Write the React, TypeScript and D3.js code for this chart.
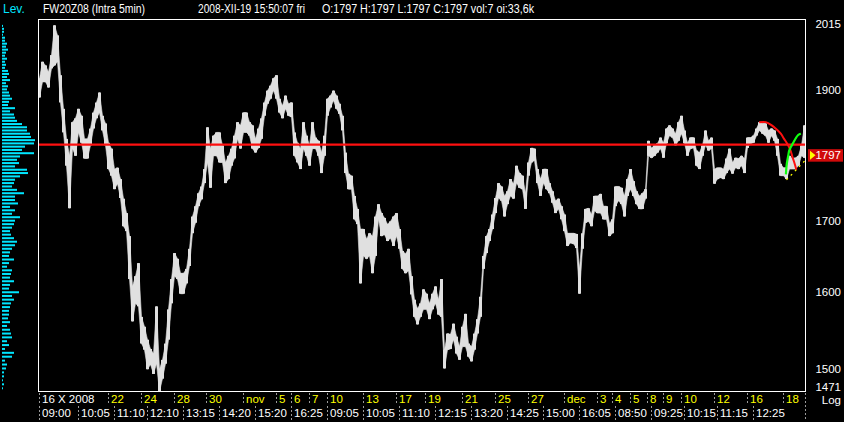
import React from 'react';
import * as d3 from 'd3';

// ---------- data ----------
const high = [
  1918,1945,1939,1928,1956,2006,1989,1923,1869,1822,
  1796,1848,1854,1869,1858,1822,1822,1838,1863,1879,
  1895,1858,1846,1816,1807,1776,1778,1761,1732,1711,
  1678,1608,1622,1640,1567,1554,1537,1525,1519,1581,
  1499,1511,1532,1577,1618,1654,1646,1626,1626,1632,
  1660,1706,1721,1740,1750,1776,1840,1807,1827,1832,
  1832,1812,1786,1796,1807,1827,1848,1843,1863,1863,
  1848,1843,1822,1838,1854,1879,1898,1906,1918,1923,
  1885,1874,1890,1877,1879,1832,1816,1807,1848,1827,
  1812,1848,1824,1819,1801,1827,1885,1890,1898,1890,
  1877,1858,1801,1769,1766,1736,1717,1688,1688,1674,
  1682,1678,1706,1724,1711,1704,1695,1699,1706,1711,
  1688,1657,1653,1660,1622,1590,1578,1585,1604,1598,
  1585,1598,1608,1590,1618,1524,1545,1544,1558,1541,
  1528,1554,1571,1532,1528,1545,1564,1594,1650,1678,
  1688,1709,1733,1755,1750,1736,1743,1761,1754,1781,
  1770,1766,1740,1786,1808,1807,1776,1761,1776,1776,
  1755,1743,1729,1732,1721,1709,1682,1682,1682,1681,
  1632,1682,1717,1718,1709,1736,1736,1739,1721,1721,
  1696,1702,1750,1750,1748,1736,1761,1776,1758,1743,
  1736,1740,1746,1819,1808,1812,1815,1824,1816,1838,
  1843,1838,1830,1848,1858,1835,1816,1824,1824,1804,
  1801,1812,1835,1819,1824,1776,1778,1778,1776,1792,
  1807,1786,1793,1792,1796,1792,1824,1824,1827,1838,
  1848,1846,1846,1835,1838,1835,1822,1784,1778,1778,
  1796,1792,1793,1796,1812,1843,
];
const low = [
  1887,1912,1912,1903,1934,1939,1945,1879,1832,1781,
  1718,1807,1796,1832,1816,1792,1792,1812,1838,1854,
  1863,1835,1812,1776,1766,1746,1754,1733,1692,1685,
  1618,1561,1585,1581,1532,1524,1499,1505,1493,1506,
  1471,1487,1506,1537,1585,1622,1618,1598,1598,1612,
  1636,1682,1697,1721,1731,1755,1786,1748,1796,1796,
  1786,1786,1755,1761,1781,1792,1822,1807,1832,1832,
  1827,1807,1801,1808,1822,1858,1877,1885,1898,1885,
  1863,1854,1869,1858,1856,1796,1786,1776,1807,1796,
  1781,1807,1807,1796,1770,1796,1858,1871,1882,1869,
  1861,1835,1770,1746,1746,1702,1695,1612,1650,1646,
  1650,1626,1650,1702,1678,1680,1671,1675,1664,1678,
  1660,1632,1626,1629,1597,1567,1557,1567,1577,1577,
  1564,1577,1585,1570,1567,1500,1524,1525,1537,1519,
  1511,1528,1528,1515,1509,1524,1545,1567,1632,1654,
  1671,1688,1711,1733,1729,1706,1724,1736,1732,1755,
  1748,1746,1717,1766,1786,1789,1755,1736,1755,1746,
  1740,1726,1711,1717,1702,1685,1664,1668,1667,1661,
  1598,1660,1697,1699,1692,1714,1711,1711,1702,1702,
  1678,1682,1721,1729,1724,1706,1736,1746,1736,1724,
  1717,1717,1732,1796,1793,1796,1801,1807,1793,1815,
  1827,1824,1812,1819,1830,1815,1796,1807,1808,1781,
  1776,1796,1812,1804,1807,1754,1761,1763,1761,1770,
  1776,1769,1778,1776,1781,1770,1808,1815,1816,1827,
  1835,1830,1827,1816,1827,1819,1796,1766,1766,1761,
  1776,1776,1776,1781,1796,1793,
];

const dateTickIdx = [0, 23, 34, 45, 56, 68, 79, 84, 90, 96, 108, 119, 129, 141, 152, 163, 175, 186, 191, 197, 203, 208, 214, 225, 236, 248];
const dateTickLabels = ['16 X 2008', '22', '24', '28', '30', 'nov', '5', '6', '7', '10', '13', '17', '19', '21', '25', '27', 'dec', '3', '4', '5', '8', '9', '10', '12', '16', '18'];
const timeTickIdx = [0, 13, 25, 36, 48, 60, 72, 84, 96, 108, 120, 132, 144, 156, 168, 180, 192, 204, 215, 226, 238];
const timeTickLabels = ['09:00', '10:05', '11:10', '12:10', '13:15', '14:20', '15:20', '16:25', '09:05', '10:05', '11:10', '12:15', '13:20', '14:25', '15:00', '16:05', '08:50', '09:25', '10:15', '11:15', '12:25'];

const priceTicks = [2015, 1900, 1700, 1600, 1500, 1471];
const lastPrice = 1797;
const refLevel = 1813;

const profileTopPrice = 2005;
const profileStep = 5;
const profileVolume = [
  1,2,2,1,3,3,5,4,6,4,
  3,5,3,4,3,6,7,5,8,4,
  6,5,7,8,10,7,6,13,8,12,
  13,15,20,25,25,28,29,33,32,23,
  20,32,18,15,17,13,25,26,18,13,
  12,10,15,22,13,13,16,8,13,10,
  18,13,12,10,8,9,12,15,13,10,
  8,7,12,7,5,10,9,8,12,8,
  7,17,10,12,9,8,7,7,6,8,
  5,8,9,10,5,7,3,12,10,3,
  5,4,2,2,1,2,1,
];

const redArcIdx = [239.9, 242.1, 244.1, 245.4, 247.1, 248.2, 249.3, 250.1, 250.7, 251, 251.6, 252.3];
const redArcPrice = [1848, 1848, 1843, 1838, 1830, 1822, 1814, 1807, 1799, 1794, 1786, 1775];
const greenArcIdx = [248.8, 249.1, 249.6, 249.9, 250.4, 251, 251.6, 252.1, 252.7, 253.2, 253.8];
const greenArcPrice = [1768, 1784, 1797, 1804, 1809, 1814, 1819, 1823, 1827, 1829, 1830];
const yellowIdx = [249, 251, 252.9, 255];
const yellowPrice = [1760, 1769, 1778, 1788];

const headerTitle = 'FW20Z08 (Intra 5min)';
const headerTime = '2008-XII-19 15:50:07 fri';
const headerOHLC = 'O:1797 H:1797 L:1797 C:1797 vol:7 oi:33,6k';

// ---------- chart ----------
const W = 844;
const H = 422;
const FONT = "'Liberation Sans', Arial, sans-serif";

export default function App() {
  const frame = { left: 38.5, right: 805.5, top: 19.5, bottom: 391.5 };
  const x = d3.scaleLinear().domain([0, high.length - 1]).range([39.5, 804.5]);
  const y = d3.scaleLog().domain([1471, 2015]).range([391.5, 20]);
  const step = x(1) - x(0);

  const bars = high.map((h, i) => ({ i, h, l: low[i] }));
  const area = d3
    .area<{ i: number; h: number; l: number }>()
    .x((d) => x(d.i))
    .y0((d) => y(d.l))
    .y1((d) => y(d.h))
    .curve(d3.curveLinear);

  const lineGen = d3
    .line<[number, number]>()
    .x((d) => x(d[0]))
    .y((d) => y(d[1]))
    .curve(d3.curveCatmullRom);

  const redPts = redArcIdx.map((v, k) => [v, redArcPrice[k]] as [number, number]);
  const greenPts = greenArcIdx.map((v, k) => [v, greenArcPrice[k]] as [number, number]);
  const yellowPts = yellowIdx.map((v, k) => [v, yellowPrice[k]] as [number, number]);

  const profileLevels = profileVolume.map((v, k) => ({ p: profileTopPrice - k * profileStep, v }));
  const volLen = d3.scaleLinear().domain([0, 33]).range([0, 33]);

  const yLast = y(lastPrice);
  const fs = 11.5;

  return (
    <svg
      width={W}
      height={H}
      style={{ position: 'fixed', left: 0, top: 0, background: '#000' }}
      fontFamily={FONT}
    >
      <rect x={0} y={0} width={W} height={H} fill="#000" />

      {/* header */}
      <text x={3} y={13} fill="#00e6ff" fontSize={12}>Lev.</text>
      <text x={43} y={13} fill="#fff" fontSize={12} textLength={102} lengthAdjust="spacingAndGlyphs">{headerTitle}</text>
      <text x={198} y={13} fill="#fff" fontSize={12} textLength={107} lengthAdjust="spacingAndGlyphs">{headerTime}</text>
      <text x={322} y={13} fill="#fff" fontSize={12} textLength={212} lengthAdjust="spacingAndGlyphs">{headerOHLC}</text>

      {/* volume profile */}
      {profileLevels.map((d, k) => (
        <rect
          key={k}
          x={2}
          y={y(d.p) - 1}
          width={Math.max(1, volLen(d.v))}
          height={2}
          fill="#00e6ff"
        />
      ))}

      {/* price trace: connecting band plus hi-lo columns */}
      <path d={area(bars) || ''} fill="#e0e0e0" stroke="#e0e0e0" strokeWidth={0.6} />
      {bars.map((d) => (
        <rect
          key={d.i}
          x={x(d.i) - step / 2}
          y={y(d.h)}
          width={step}
          height={Math.max(1, y(d.l) - y(d.h))}
          fill="#e0e0e0"
        />
      ))}

      {/* reference level */}
      <line x1={frame.left} x2={frame.right} y1={y(refLevel)} y2={y(refLevel)} stroke="#ff1010" strokeWidth={2.2} />

      {/* indicator arcs */}
      <path d={lineGen(redPts) || ''} fill="none" stroke="#ff1010" strokeWidth={2} />
      <path d={lineGen(greenPts) || ''} fill="none" stroke="#10ff10" strokeWidth={2.2} />
      <path d={d3.line<[number, number]>().x((d) => x(d[0])).y((d) => y(d[1]))(yellowPts) || ''} fill="none" stroke="#ffff00" strokeWidth={1.2} strokeDasharray="2,4" />

      {/* frame */}
      <rect x={frame.left} y={frame.top} width={frame.right - frame.left} height={frame.bottom - frame.top} fill="none" stroke="#fff" strokeWidth={1} />

      {/* right axis */}
      {priceTicks.map((p) => {
        const ty = Math.min(386.5, Math.max(23.5, y(p)));
        return (
          <text key={p} x={841} y={ty + 4.2} fill="#fff" fontSize={fs} textAnchor="end">
            {p}
          </text>
        );
      })}
      <text x={841} y={403.5} fill="#fff" fontSize={fs} textAnchor="end">Log</text>

      {/* last price marker */}
      <rect x={808} y={yLast - 6} width={35} height={12.5} fill="#d00a0a" />
      <polygon points={`${810},${yLast - 4.5} ${815.5},${yLast} ${810},${yLast + 4.5}`} fill="#ffff00" />
      <text x={841} y={yLast + 4.3} fill="#fff" fontSize={fs} textAnchor="end">{lastPrice}</text>

      {/* bottom axis: dates */}
      {dateTickIdx.map((idx, k) => {
        const sx = Math.round(x(idx)) - 0.5;
        return (
          <g key={'d' + k}>
            <line x1={sx} x2={sx} y1={393} y2={404} stroke="#9a9a9a" strokeWidth={1} strokeDasharray="2,2" />
            <text x={sx + 2.5} y={402.5} fill={k === 0 ? '#fff' : '#ffff00'} fontSize={fs}>
              {dateTickLabels[k]}
            </text>
          </g>
        );
      })}
      {timeTickIdx.map((idx, k) => {
        const sx = Math.round(x(idx)) - 0.5;
        return (
          <g key={'t' + k}>
            <line x1={sx} x2={sx} y1={406} y2={420} stroke="#9a9a9a" strokeWidth={1} strokeDasharray="2,2" />
            <text x={sx + 2.5} y={417} fill="#fff" fontSize={fs}>
              {timeTickLabels[k]}
            </text>
          </g>
        );
      })}
      <line x1={frame.right} x2={frame.right} y1={393} y2={420} stroke="#9a9a9a" strokeWidth={1} strokeDasharray="2,2" />
    </svg>
  );
}
